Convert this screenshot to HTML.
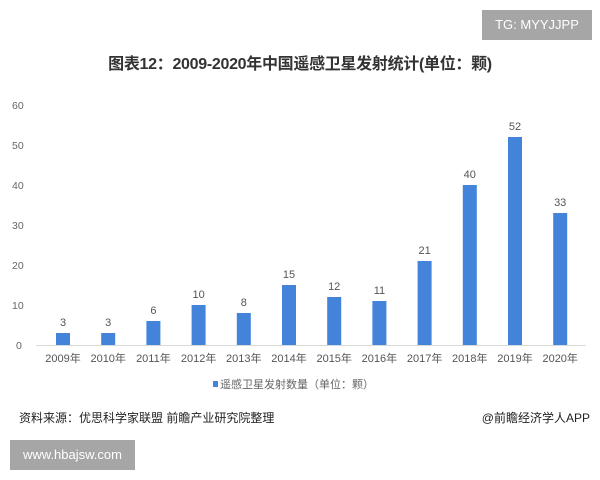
<!DOCTYPE html>
<html><head><meta charset="utf-8"><style>
body{margin:0;width:600px;height:480px;background:#fff;overflow:hidden;position:relative;font-family:"Liberation Sans","Noto Sans CJK SC",sans-serif}
.a{position:absolute;white-space:nowrap}
</style></head><body>
<div class="a" style="left:482px;top:10px;width:110px;height:30px;background:#a6a6a6;color:#fff;font-size:13px;line-height:30px;text-align:center">TG: MYYJJPP</div>
<div class="a" style="left:0;width:600px;top:50px;text-align:center;font-size:16px;font-weight:bold;color:#333;letter-spacing:-0.3px">图表12：2009-2020年中国遥感卫星发射统计(单位：颗)</div>
<svg class="a" style="left:0;top:0" width="600" height="480">
<g font-size="10.5" fill="#666" font-family="Liberation Sans">
<text x="12" y="109">60</text><text x="12" y="149">50</text><text x="12" y="189">40</text><text x="12" y="229">30</text><text x="12" y="269">20</text><text x="12" y="309">10</text><text x="16" y="349">0</text>
</g>
<line x1="36" y1="345.5" x2="586" y2="345.5" stroke="#d9d9d9"/>
<g fill="#4384da" id="b"></g>
<g id="t" font-size="11" fill="#555" text-anchor="middle" font-family="Liberation Sans,Noto Sans CJK SC"></g>
<rect x="213" y="381" width="5" height="6" fill="#4384da"/>
<text x="220" y="388" font-size="11" fill="#666" font-family="Liberation Sans,Noto Sans CJK SC">遥感卫星发射数量（单位：颗）</text>
</svg>
<div class="a" style="left:19px;top:409px;font-size:12px;color:#222">资料来源：优思科学家联盟 前瞻产业研究院整理</div>
<div class="a" style="right:10px;top:409px;font-size:12px;color:#222">@前瞻经济学人APP</div>
<div class="a" style="left:10px;top:440px;width:125px;height:30px;background:#a6a6a6;color:#fff;font-size:13px;line-height:30px;text-align:center">www.hbajsw.com</div>
<script>
var v=[3,3,6,10,8,15,12,11,21,40,52,33],b=document.getElementById('b'),t=document.getElementById('t'),ns='http://www.w3.org/2000/svg';
v.forEach(function(d,i){var cx=63+i*45.2,r=document.createElementNS(ns,'rect');r.setAttribute('x',cx-7);r.setAttribute('width',14);r.setAttribute('y',345-d*4);r.setAttribute('height',d*4);b.appendChild(r);
var l=document.createElementNS(ns,'text');l.setAttribute('x',cx);l.setAttribute('y',345-d*4-7);l.textContent=d;t.appendChild(l);
var y=document.createElementNS(ns,'text');y.setAttribute('x',cx);y.setAttribute('y',362);y.textContent=(2009+i)+'年';t.appendChild(y);});
</script>
</body></html>
